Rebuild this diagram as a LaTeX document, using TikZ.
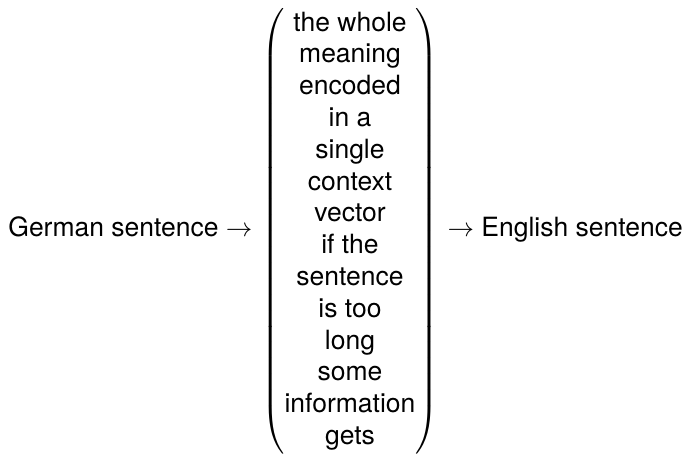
\documentclass[tikz,border=0pt]{standalone}
\usepackage{fontspec}
\setmainfont{TeX Gyre Heros}
\begin{document}
\begin{tikzpicture}[x=0.37737pt,y=-0.37737pt,
  label text/.style={inner sep=0pt, font=\fontsize{10}{12}\selectfont},
]
\useasboundingbox (0,0) rectangle (685,453);
% the context-vector column, bracketed by tall parentheses
\node[label text] (ctx) at (350,231.5) {$\left(\begin{tabular}{@{}c@{}}
the whole\\ meaning\\ encoded\\ in a\\ single\\ context\\ vector\\
if the\\ sentence\\ is too\\ long\\ some\\ information\\ gets
\end{tabular}\right)$};
% source and target sides
\node[label text, anchor=base east] (src) at (253,236.5) {German sentence $\rightarrow$};
\node[label text, anchor=base west] (tgt) at (447,236.5) {$\rightarrow$ English sentence};
\end{tikzpicture}
\end{document}
